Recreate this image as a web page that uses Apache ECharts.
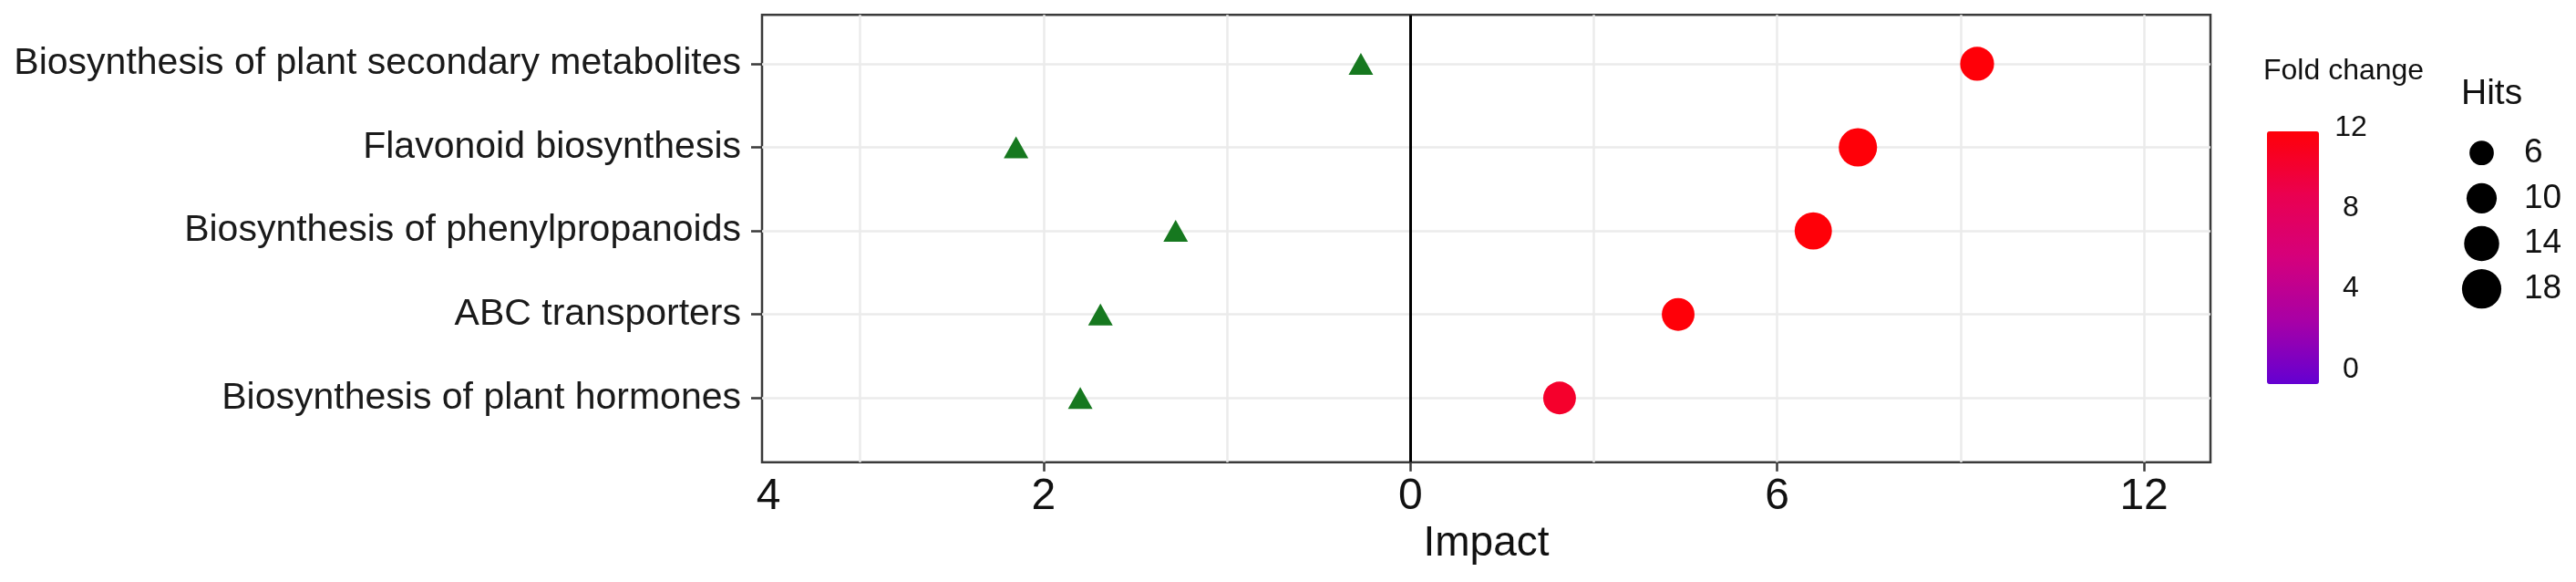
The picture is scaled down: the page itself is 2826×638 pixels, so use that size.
<!DOCTYPE html>
<html>
<head>
<meta charset="utf-8">
<script src="https://cdn.jsdelivr.net/npm/echarts@6/dist/echarts.min.js"></script>
<style>
  html, body { margin: 0; padding: 0; background: #fff; }
  #chart { width: 2826px; height: 638px; }
</style>
</head>
<body>
<div id="chart"></div>
<script>
// pathways, top to bottom
const pathways = [
  "Biosynthesis of plant secondary metabolites",
  "Flavonoid biosynthesis",
  "Biosynthesis of phenylpropanoids",
  "ABC transporters",
  "Biosynthesis of plant hormones",
];
// right half: impact of up-regulated hits (circles)
const impactUp = [9.27, 7.32, 6.59, 4.38, 2.44];
const hits = [13, 17, 16, 12, 12];
const foldChange = [12, 12, 12, 12, 10.5];
// left half: impact of down-regulated hits (triangles), on the left scale
const impactDown = [0.27, 2.15, 1.28, 1.69, 1.8];

// bottom axis labels (left side values are shown on the 1/3 scale)
const xTickValues = [-10.5, -6, 0, 6, 12];
const xTickLabels = ["4", "2", "0", "6", "12"];
const xTicks = [-6, 0, 6, 12];
const foldTicks = [0, 4, 8, 12];
const hitsBreaks = [6, 10, 14, 18];

const FONT = "'Liberation Sans', Arial, sans-serif";
const LEFT_SCALE = 3;
const IMPACT_MIN = -10.605, IMPACT_MAX = 13.087;
const GRID_LINE = "#ebebeb";
const BORDER = "#3a3a3a";

// point area grows linearly with hits
const hitSize = (h) => Math.sqrt(713 + 96 * (h - 6));

const chart = echarts.init(document.getElementById("chart"));

const option = {
  animation: false,
  textStyle: { fontFamily: FONT },
  title: [
    { text: "Fold change", left: 2483, top: 62, padding: 0,
      textStyle: { fontFamily: FONT, fontSize: 32, fontWeight: "normal", color: "#111" } },
    { text: "Hits", left: 2700, top: 84, padding: 0,
      textStyle: { fontFamily: FONT, fontSize: 39, fontWeight: "normal", color: "#111" } },
  ],
  grid: [
    { left: 836, right: 401, top: 16.3, bottom: 131.3, show: true,
      borderColor: BORDER, borderWidth: 2.5, backgroundColor: "#fff", outerBoundsMode: "none" },
    { left: 2540, width: 20, top: 140, height: 265, outerBoundsMode: "none" },
    { left: 2702, width: 41, top: 167.7, height: 149, outerBoundsMode: "none" },
  ],
  xAxis: [
    {
      type: "value", gridIndex: 0, position: "bottom",
      min: IMPACT_MIN, max: IMPACT_MAX,
      name: "Impact", nameLocation: "middle", nameGap: 58,
      nameTextStyle: { fontFamily: FONT, fontSize: 46, color: "#111" },
      axisLine: { show: false, onZero: false },
      axisTick: { show: true, customValues: xTicks, length: 10,
        lineStyle: { color: BORDER, width: 2.5 } },
      axisLabel: {
        customValues: xTickValues, margin: 14,
        fontFamily: FONT, fontSize: 48, color: "#111",
        formatter: (v) => xTickLabels[xTickValues.indexOf(v)],
      },
      splitLine: { show: false },
    },
    {
      // left scale, growing leftwards from the zero line
      type: "value", gridIndex: 0, position: "bottom", inverse: true,
      min: -IMPACT_MAX / LEFT_SCALE, max: -IMPACT_MIN / LEFT_SCALE,
      axisLine: { show: false, onZero: false },
      axisTick: { show: false, customValues: [-4, -3, -2, -1, 0, 1, 2, 3] },
      axisLabel: { show: false },
      splitLine: { show: true, lineStyle: { color: GRID_LINE, width: 2.5 } },
    },
    { type: "value", gridIndex: 1, show: false, min: 0, max: 1 },
    { type: "value", gridIndex: 2, show: false, min: -1, max: 1 },
  ],
  yAxis: [
    {
      type: "value", gridIndex: 0, inverse: true, position: "left",
      min: -0.586, max: 4.769,
      axisLine: { show: false, onZero: false },
      axisTick: { show: true, customValues: [0, 1, 2, 3, 4], length: 12,
        lineStyle: { color: BORDER, width: 2.5 } },
      axisLabel: {
        customValues: [0, 1, 2, 3, 4], margin: 23,
        fontFamily: FONT, fontSize: 41, color: "#1a1a1a",
        formatter: (v) => pathways[v],
      },
      splitLine: { show: true, lineStyle: { color: GRID_LINE, width: 2.7 } },
    },
    {
      type: "value", gridIndex: 1, position: "right",
      min: 0, max: 12, interval: 4,
      axisLine: { show: false, onZero: false }, axisTick: { show: false }, splitLine: { show: false },
      axisLabel: { customValues: foldTicks, margin: 19, align: "center",
        fontFamily: FONT, fontSize: 32, color: "#111" },
    },
    {
      type: "value", gridIndex: 2, position: "right", inverse: true,
      min: 6, max: 18,
      axisLine: { show: false, onZero: false }, axisTick: { show: false, customValues: hitsBreaks },
      splitLine: { show: false },
      axisLabel: { customValues: hitsBreaks, margin: 26,
        fontFamily: FONT, fontSize: 37, color: "#111" },
    },
  ],
  visualMap: [
    {
      type: "continuous", seriesIndex: 0, dimension: 3,
      min: 0, max: 12, calculable: false, hoverLink: false,
      left: 2487, top: 144, padding: 0,
      itemWidth: 57, itemHeight: 277,
      inRange: { color: ["#6400d2", "#a800a6", "#d5007c", "#ea0050", "#ff0008"] },
    },
  ],
  series: [
    {
      name: "up", type: "scatter", xAxisIndex: 0, yAxisIndex: 0,
      data: impactUp.map((v, i) => [v, i, hits[i], foldChange[i]]),
      encode: { x: 0, y: 1 },
      symbol: "circle",
      symbolSize: (d) => hitSize(d[2]),
      itemStyle: { opacity: 1 },
      z: 5,
      markLine: {
        silent: true, symbol: "none", label: { show: false },
        lineStyle: { color: "#000", width: 3, type: "solid" },
        data: [{ xAxis: 0 }],
      },
    },
    {
      name: "down", type: "scatter", xAxisIndex: 1, yAxisIndex: 0,
      data: impactDown.map((v, i) => [v, i]),
      symbol: "triangle", symbolSize: [27, 24],
      itemStyle: { color: "#16781f", opacity: 1 },
      z: 5,
    },
    {
      name: "hitsLegend", type: "scatter", xAxisIndex: 3, yAxisIndex: 2,
      data: hitsBreaks.map((h) => [0, h]),
      symbol: "circle",
      symbolSize: (d) => hitSize(d[1]),
      itemStyle: { color: "#000", opacity: 1 },
    },
  ],
};

chart.setOption(option);
</script>
</body>
</html>
